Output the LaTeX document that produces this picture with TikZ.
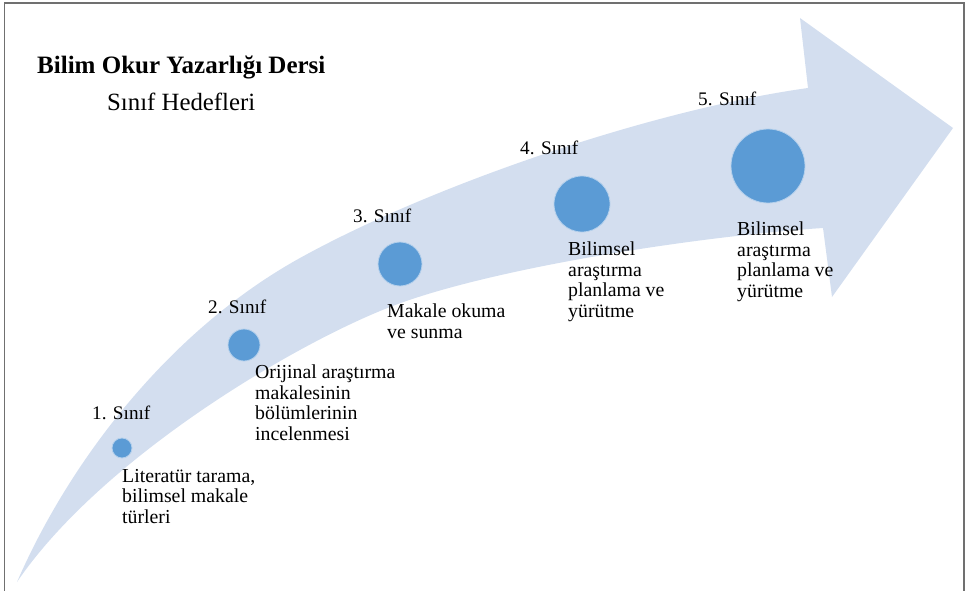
\documentclass[tikz,border=0pt]{standalone}
\usepackage{fontspec}
\setmainfont{Liberation Serif}
\definecolor{arrowfill}{HTML}{D3DEEF}
\definecolor{dotfill}{HTML}{5B9BD5}
\definecolor{dotedge}{HTML}{B4D0EC}
\definecolor{framegray}{HTML}{707070}
\tikzset{
  gradedot/.style={circle,fill=dotfill,draw=dotedge,line width=0.8pt,inner sep=0pt},
  grade/.style={anchor=base west,inner sep=0pt,font=\fontsize{19.2}{21}\selectfont},
  goal/.style={anchor=base west,inner sep=0pt,align=left,font=\fontsize{19.8}{20.4}\selectfont},
}
\begin{document}
\begin{tikzpicture}[x=1pt,y=-1pt]%
\useasboundingbox (0,0) rectangle (971,591);
% frame, open at the bottom
\draw[framegray,line width=1.4pt] (4.5,595) -- (4.5,3) -- (964,3) -- (964,595);
% the big curved arrow
\fill[arrowfill] (17,582)
 .. controls (70,460) and (170,330) .. (300,258)
 .. controls (430,186) and (650,110) .. (808,88)
 -- (800,18) -- (953,128) -- (832,297) -- (823,228)
 .. controls (700,236) and (490,268) .. (390,307)
 .. controls (290,346) and (100,460) .. (17,582) -- cycle;
% heading
\node[anchor=base west,inner sep=0pt,font=\fontsize{25}{28}\selectfont\bfseries] (title) at (37,74) {Bilim Okur Yazarlığı Dersi};
\node[anchor=base west,inner sep=0pt,font=\fontsize{24.8}{28}\selectfont] (subtitle) at (107,111) {Sınıf Hedefleri};
% grades
\node[gradedot,minimum size=20pt] (c1) at (122,448) {};
\node[gradedot,minimum size=32pt] (c2) at (244,345) {};
\node[gradedot,minimum size=44pt] (c3) at (400,264) {};
\node[gradedot,minimum size=56pt] (c4) at (582,204) {};
\node[gradedot,minimum size=74pt] (c5) at (768,166) {};
\node[grade] (l1) at (92,419) {1. Sınıf};
\node[grade] (l2) at (208,313) {2. Sınıf};
\node[grade] (l3) at (353,222) {3. Sınıf};
\node[grade] (l4) at (520,154) {4. Sınıf};
\node[grade] (l5) at (698,106) {5. Sınıf};
% goals, placed by the baseline of their last line
\node[goal] (d1) at (122,523) {Literatür tarama,\\bilimsel makale\\türleri};
\node[goal] (d2) at (255,440) {Orijinal araştırma\\makalesinin\\bölümlerinin\\incelenmesi};
\node[goal] (d3) at (387,338) {Makale okuma\\ve sunma};
\node[goal] (d4) at (568,317) {Bilimsel\\araştırma\\planlama ve\\yürütme};
\node[goal] (d5) at (737,297) {Bilimsel\\araştırma\\planlama ve\\yürütme};
\end{tikzpicture}
\end{document}
